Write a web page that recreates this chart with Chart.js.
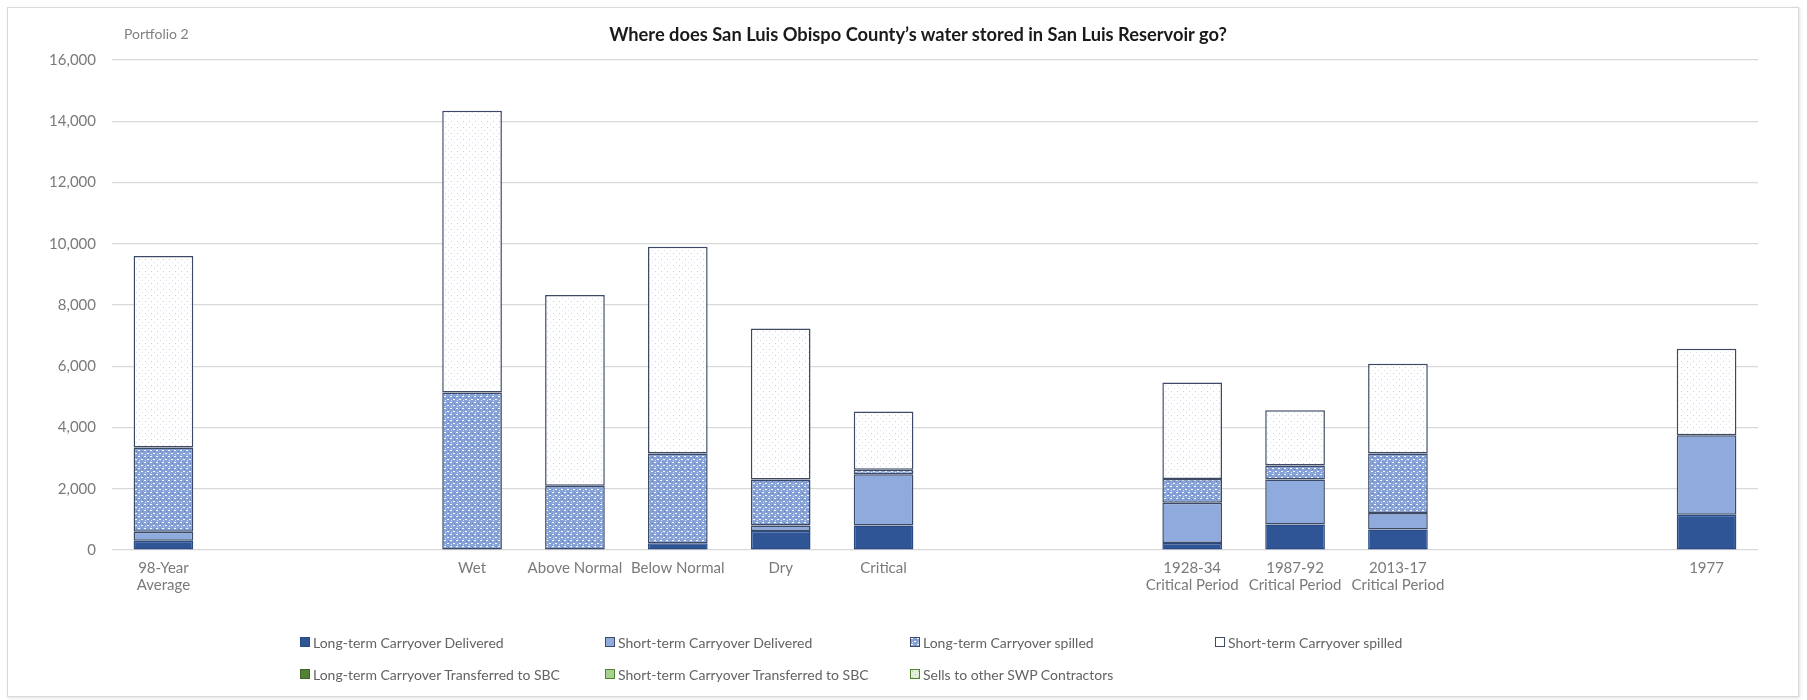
<!DOCTYPE html>
<html>
<head>
<meta charset="utf-8">
<script src="https://cdn.jsdelivr.net/npm/chart.js@4"></script>
<style>
	body { margin: 0; background: #fff; font-family: Lato, "Open Sans", sans-serif; }
	.wrap { position: relative; width: 1807px; height: 700px; overflow: hidden; }
	.frame { position: absolute; left: 7px; top: 7px; width: 1790px; height: 688px; border: 1px solid #d9d9d9; box-shadow: 1px 1px 3px rgba(0,0,0,0.12); }
	canvas { position: absolute; left: 0; top: 0; }
	.portfolio { position: absolute; left: 124px; top: 25px; font-size: 14px; color: #808080; }
	.title { position: absolute; left: 918px; top: 23px; transform: translateX(-50%); font-size: 18.3px; font-weight: bold; color: #1a1a1a; white-space: nowrap; }
	.legend { position: absolute; left: 300px; top: 631px; display: grid; grid-template-columns: 305px 305px 305px 305px; grid-auto-rows: 32px; }
	.legend div { font-size: 14px; color: #636363; white-space: nowrap; display: flex; align-items: center; height: 22px; }
	.legend span.box { display: inline-block; width: 8px; height: 8px; border: 1.5px solid #3c4a66; margin-right: 3px; background-size: 6px 6px; }
</style>
</head>
<body>
<div class="wrap">
	<div class="frame"></div>
	<canvas id="chart" width="1807" height="700"></canvas>
	<div class="portfolio">Portfolio 2</div>
	<div class="title">Where does San Luis Obispo County’s water stored in San Luis Reservoir go?</div>
	<div class="legend" id="legend"></div>
</div>
<script>
// categories (empty strings are the gaps between the groups)
const categories = [['98-Year','Average'], '', '', 'Wet', 'Above Normal', 'Below Normal', 'Dry', 'Critical', '', '',
	['1928-34','Critical Period'], ['1987-92','Critical Period'], ['2013-17','Critical Period'], '', '', '1977'];

const ltDelivered   = [300,  null, null, 0,    0,    220,  620,  800,  null, null, 230,  830,  670,  null, null, 1150];
const stDelivered   = [300,  null, null, 0,    0,    0,    180,  1670, null, null, 1310, 1470, 540,  null, null, 2600];
const ltSpilled     = [2750, null, null, 5140, 2100, 2930, 1500, 150,  null, null, 780,  460,  1940, null, null, 0];
const stSpilled     = [6250, null, null, 9200, 6230, 6750, 4930, 1900, null, null, 3150, 1800, 2930, null, null, 2820];
const ltTransferred = [0,    null, null, 0,    0,    0,    0,    0,    null, null, 0,    0,    0,    null, null, 0];
const stTransferred = [0,    null, null, 0,    0,    0,    0,    0,    null, null, 0,    0,    0,    null, null, 0];
const sellsSWP      = [0,    null, null, 0,    0,    0,    0,    0,    null, null, 0,    0,    0,    null, null, 0];

const yTicks = [0, 2000, 4000, 6000, 8000, 10000, 12000, 14000, 16000];

function patternCanvas(bg, dots) {
	let c = document.createElement('canvas');
	c.width = 6; c.height = 6;
	let g = c.getContext('2d');
	g.fillStyle = bg;
	g.fillRect(0, 0, 6, 6);
	dots.forEach(function(d) {
		g.fillStyle = d[0];
		g.fillRect(d[1], d[2], d[3], d[4]);
	});
	return c;
}

let ctx = document.getElementById('chart').getContext('2d');

let ltSpillCanvas = patternCanvas('#86a2d6', [['#ffffff',0,0,2,1], ['#ffffff',3,3,2,1], ['#dbe4f5',1,4,1,1], ['#5f7fbf',4,1,1,1]]);
let stSpillCanvas = patternCanvas('#ffffff', [['#c8d1e4',1,1,1,1], ['#dde3ef',4,4,1,1]]);
let sellsCanvas = patternCanvas('#e2efd9', [['#a9d18e',1,1,1,1], ['#a9d18e',4,4,1,1]]);

let ltSpillPattern = ctx.createPattern(ltSpillCanvas, 'repeat');
let stSpillPattern = ctx.createPattern(stSpillCanvas, 'repeat');
let sellsPattern = ctx.createPattern(sellsCanvas, 'repeat');

const border = '#3c4a66';

function ds(label, data, fill, edge, legendBg) {
	return {
		label: label,
		data: data,
		backgroundColor: fill,
		borderColor: edge,
		borderWidth: 1.5,
		borderSkipped: false,
		legendBg: legendBg
	};
}

let chart = new Chart(ctx, {
	type: 'bar',
	data: {
		labels: categories,
		datasets: [
			ds('Long-term Carryover Delivered', ltDelivered, '#2f5597', '#2a4a85', '#2f5597'),
			ds('Short-term Carryover Delivered', stDelivered, '#8faadc', border, '#8faadc'),
			ds('Long-term Carryover spilled', ltSpilled, ltSpillPattern, border, 'url(' + ltSpillCanvas.toDataURL() + ')'),
			ds('Short-term Carryover spilled', stSpilled, stSpillPattern, border, '#ffffff'),
			ds('Long-term Carryover Transferred to SBC', ltTransferred, '#548235', '#3f6428', '#548235'),
			ds('Short-term Carryover Transferred to SBC', stTransferred, '#a9d18e', '#548235', '#a9d18e'),
			ds('Sells to other SWP Contractors', sellsSWP, sellsPattern, '#548235', 'url(' + sellsCanvas.toDataURL() + ')')
		]
	},
	options: {
		responsive: false,
		animation: false,
		devicePixelRatio: 1,
		layout: { padding: { left: 0, right: 49, top: 60, bottom: 0 } },
		datasets: { bar: { categoryPercentage: 1, barPercentage: 0.58 } },
		plugins: {
			legend: { display: false },
			tooltip: { enabled: false }
		},
		scales: {
			x: {
				stacked: true,
				grid: { display: false },
				border: { display: false },
				ticks: { color: '#7a7a7a', font: { family: 'Lato', size: 15, lineHeight: 1.1 }, padding: 2, maxRotation: 0, autoSkip: false },
				afterFit: function(scale) { scale.height = 150; }
			},
			y: {
				stacked: true,
				min: 0,
				max: 16000,
				afterBuildTicks: function(scale) { scale.ticks = yTicks.map(function(v) { return { value: v }; }); },
				grid: { color: '#d9d9d9', lineWidth: 1.2, drawTicks: false },
				border: { display: false },
				ticks: {
					color: '#7a7a7a',
					font: { family: 'Lato', size: 15 },
					padding: 16,
					callback: function(v) { return v.toLocaleString('en-US'); }
				},
				afterFit: function(scale) { scale.width = 112; }
			}
		}
	}
});

// legend in the same grid as the original
let legend = document.getElementById('legend');
chart.data.datasets.forEach(function(d, i) {
	let item = document.createElement('div');
	let box = document.createElement('span');
	box.className = 'box';
	box.style.background = d.legendBg;
	box.style.borderColor = d.borderColor;
	item.appendChild(box);
	item.appendChild(document.createTextNode(d.label));
	legend.appendChild(item);
});
</script>
</body>
</html>
